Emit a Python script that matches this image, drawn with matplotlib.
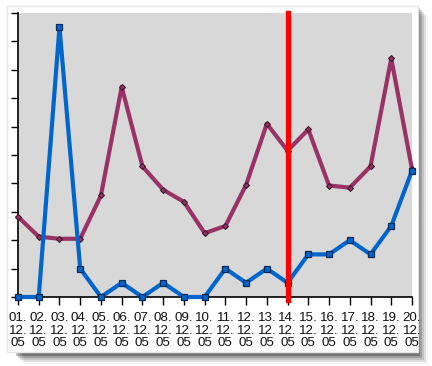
import matplotlib
matplotlib.use("Agg")
import matplotlib.pyplot as plt
from matplotlib.patches import Rectangle

days = ["01", "02", "03", "04", "05", "06", "07", "08", "09", "10",
        "11", "12", "13", "14", "15", "16", "17", "18", "19", "20"]
x_labels = [f"{d}.\n12.\n05" for d in days]
blue_values = [0, 0, 19, 2, 0, 1, 0, 1, 0, 0, 2, 1, 2, 1, 3, 3, 4, 3, 5, 8.9]
purple_values = [5.65, 4.25, 4.1, 4.1, 7.15, 14.8, 9.2, 7.55, 6.7, 4.5,
                 5.0, 7.9, 12.2, 10.3, 11.8, 7.85, 7.7, 9.2, 16.8, 9.0]
marker_index = 13  # 14.12.05

W, H = 432, 366
fig = plt.figure(figsize=(W / 100, H / 100), dpi=100)
fig.patch.set_facecolor("white")

# drop shadow (right and bottom), soft
for i, a in enumerate([0.10, 0.18, 0.28, 0.40, 0.55]):
    off = 10 - i * 2
    fig.patches.append(Rectangle(((14 + off) / W, 1 - (354 + off) / H),
                                 (404) / W, (348) / H,
                                 transform=fig.transFigure, facecolor="#000000",
                                 alpha=a * 0.45, edgecolor="none", zorder=0))
# white card
fig.patches.append(Rectangle((7 / W, 1 - 352 / H), 411 / W, 346 / H,
                             transform=fig.transFigure, facecolor="white",
                             edgecolor="#e6e6e6", linewidth=1.0, zorder=1))

ax = fig.add_axes([18 / W, 1 - 297 / H, (412 - 18) / W, (297 - 13) / H])
ax.set_zorder(2)
ax.set_facecolor("#d8d8d8")
x = list(range(len(days)))

ax.plot(x, purple_values, color="#993366", linewidth=3.0,
        marker="D", markersize=3.0, markerfacecolor="#993366",
        markeredgecolor="#3a1a2a", markeredgewidth=0.8, clip_on=False, zorder=3)
ax.plot(x, blue_values, color="#0066cc", linewidth=3.0,
        marker="s", markersize=4.2, markerfacecolor="#0066cc",
        markeredgecolor="#0a2a55", markeredgewidth=0.9, clip_on=False, zorder=4)

ax.axvline(marker_index, ymin=-0.012, ymax=1.0, color="#ff0000", linewidth=3.8,
           clip_on=False, zorder=5)

ax.set_xlim(0, len(days) - 1)
ax.set_ylim(0, 20)
ax.set_yticks(range(0, 21, 2))
ax.set_yticklabels([])
ax.set_xticks(x)
ax.set_xticklabels(x_labels, fontsize=9.6, family="Liberation Sans",
                   color="#111111", linespacing=1.03)
ax.tick_params(axis="y", direction="out", length=5, width=1, color="black")
ax.tick_params(axis="x", direction="out", length=6, width=1, color="black", pad=5)
for s in ["top", "right"]:
    ax.spines[s].set_visible(False)
for s in ["left", "bottom"]:
    ax.spines[s].set_color("black")
    ax.spines[s].set_linewidth(1.2)

fig.savefig("out.png", dpi=100)
